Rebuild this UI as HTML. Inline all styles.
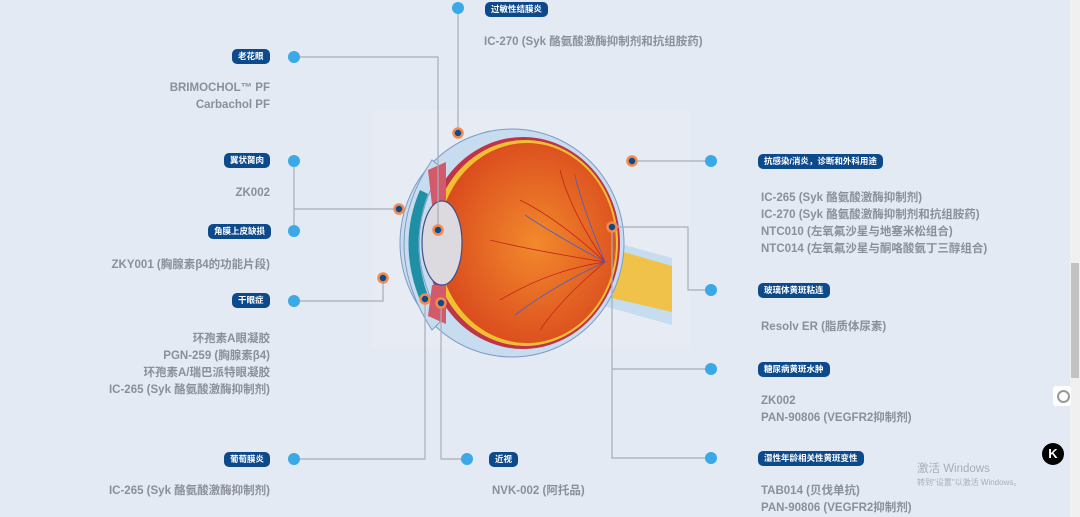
<!DOCTYPE html>
<html><head><meta charset="utf-8">
<style>
html,body{margin:0;padding:0}
body{width:1080px;height:517px;background:#e4eaf3;position:relative;overflow:hidden;font-family:"Liberation Sans","Noto Sans CJK SC",sans-serif}
.b{position:absolute;height:15px;line-height:15px;background:#0d4a8c;color:#fff;font-size:8.5px;font-weight:bold;border-radius:5px;padding:0 6px;white-space:nowrap}
.t{position:absolute;color:#8a8f99;font-size:11.5px;font-weight:bold;line-height:17px;white-space:nowrap}
.r{text-align:right}
</style></head><body>
<svg width="1080" height="517" style="position:absolute;left:0;top:0">
<defs>
<radialGradient id="og" cx="0.55" cy="0.5" r="0.6"><stop offset="0" stop-color="#f28a2c"/><stop offset="1" stop-color="#d8451c"/></radialGradient>
</defs>
<rect x="372" y="110" width="318" height="238" fill="#e7ecf4"/>
<path d="M600 238 L672 258 L672 325 L600 305 Z" fill="#c6ddef"/>
<path d="M603 246 L672 266 L672 312 L603 296 Z" fill="#f1c24a"/>
<ellipse cx="512" cy="243" rx="112" ry="114" fill="#c8dcef" stroke="#7e9bc6" stroke-width="1"/>
<ellipse cx="523" cy="243" rx="97" ry="106" fill="#c0344a"/>
<ellipse cx="525" cy="243" rx="93" ry="103" fill="#f0c030"/>
<ellipse cx="527" cy="243" rx="89" ry="100" fill="url(#og)"/>
<path d="M432 160 Q376 243 432 330 L442 320 Q396 243 442 168 Z" fill="#c8dcef" stroke="#7e9bc6" stroke-width="1"/>
<path d="M420 190 Q397 243 420 300 L428 296 Q409 243 428 194 Z" fill="#1f8fa6"/>
<path d="M428 170 L446 162 L446 205 L432 205 Z" fill="#d35a6a"/>
<path d="M428 316 L446 324 L446 285 L432 285 Z" fill="#d35a6a"/>
<ellipse cx="442" cy="243" rx="20" ry="42" fill="#dcd9df" stroke="#3e4f8a" stroke-width="1.2"/>
<g stroke="#c8201c" stroke-width="0.8" fill="none">
<path d="M605 262 Q560 220 520 200"/><path d="M605 262 Q550 270 500 300"/><path d="M605 262 Q570 210 560 170"/><path d="M605 262 Q560 300 540 330"/><path d="M605 262 Q530 250 490 240"/>
</g>
<g stroke="#4a60c0" stroke-width="0.8" fill="none">
<path d="M605 262 Q555 235 525 215"/><path d="M605 262 Q555 285 515 315"/><path d="M605 262 Q580 200 575 175"/>
</g>
<g stroke="#a7aeb9" stroke-width="1.2" fill="none">
<path d="M294 57 H438 V230"/><path d="M458 8 V133"/><path d="M294 161 V231"/><path d="M294 209 H399"/>
<path d="M294 301 H383 V278"/><path d="M294 459 H425 V299"/><path d="M467 459 H441 V303"/>
<path d="M632 161 H711"/><path d="M612 227 H688 V290 H711"/><path d="M612 227 V458 H711"/><path d="M612 369 H711"/>
</g>
<g fill="#3aa9e6">
<circle cx="294" cy="57" r="6"/><circle cx="294" cy="161" r="6"/><circle cx="294" cy="231" r="6"/><circle cx="294" cy="301" r="6"/><circle cx="294" cy="459" r="6"/>
<circle cx="458" cy="8" r="6"/><circle cx="467" cy="459" r="6"/>
<circle cx="711" cy="161" r="6"/><circle cx="711" cy="290" r="6"/><circle cx="711" cy="369" r="6"/><circle cx="711" cy="458" r="6"/>
</g>
<g fill="#0d4a8c" stroke="#f38a4e" stroke-width="2.5">
<circle cx="458" cy="133" r="4.5"/><circle cx="399" cy="209" r="4.5"/><circle cx="438" cy="230" r="4.5"/><circle cx="383" cy="278" r="4.5"/>
<circle cx="425" cy="299" r="4.5"/><circle cx="441" cy="303" r="4.5"/><circle cx="632" cy="161" r="4.5"/><circle cx="612" cy="227" r="4.5"/>
</g>
</svg>
<div class="b" style="left:232px;top:49px">老花眼</div>
<div class="t r" style="right:810px;top:80px">BRIMOCHOL™ PF<br>Carbachol PF</div>
<div class="b" style="left:224px;top:153px">翼状胬肉</div>
<div class="t r" style="right:810px;top:185px">ZK002</div>
<div class="b" style="left:208px;top:224px">角膜上皮缺损</div>
<div class="t r" style="right:810px;top:257px">ZKY001 (胸腺素β4的功能片段)</div>
<div class="b" style="left:232px;top:293px">干眼症</div>
<div class="t r" style="right:810px;top:331px">环孢素A眼凝胶<br>PGN-259 (胸腺素β4)<br>环孢素A/瑞巴派特眼凝胶<br>IC-265 (Syk 酪氨酸激酶抑制剂)</div>
<div class="b" style="left:224px;top:452px">葡萄膜炎</div>
<div class="t r" style="right:810px;top:483px">IC-265 (Syk 酪氨酸激酶抑制剂)</div>
<div class="b" style="left:485px;top:2px">过敏性结膜炎</div>
<div class="t" style="left:484px;top:34px">IC-270 (Syk 酪氨酸激酶抑制剂和抗组胺药)</div>
<div class="b" style="left:489px;top:452px">近视</div>
<div class="t" style="left:492px;top:483px">NVK-002 (阿托品)</div>
<div class="b" style="left:758px;top:154px">抗感染/消炎，诊断和外科用途</div>
<div class="t" style="left:761px;top:190px">IC-265 (Syk 酪氨酸激酶抑制剂)<br>IC-270 (Syk 酪氨酸激酶抑制剂和抗组胺药)<br>NTC010 (左氧氟沙星与地塞米松组合)<br>NTC014 (左氧氟沙星与酮咯酸氨丁三醇组合)</div>
<div class="b" style="left:758px;top:283px">玻璃体黄斑粘连</div>
<div class="t" style="left:761px;top:319px">Resolv ER (脂质体尿素)</div>
<div class="b" style="left:758px;top:362px">糖尿病黄斑水肿</div>
<div class="t" style="left:761px;top:393px">ZK002<br>PAN-90806 (VEGFR2抑制剂)</div>
<div class="b" style="left:758px;top:451px">湿性年龄相关性黄斑变性</div>
<div class="t" style="left:761px;top:483px">TAB014 (贝伐单抗)<br>PAN-90806 (VEGFR2抑制剂)</div>
<div style="position:absolute;left:917px;top:463px;color:#a8adb5;font-size:11.5px;line-height:13px">激活 Windows<br><span style="font-size:8px">转到"设置"以激活 Windows。</span></div>
<div style="position:absolute;left:1070px;top:0;width:10px;height:517px;background:#f0f0f0"></div>
<div style="position:absolute;left:1071px;top:263px;width:8px;height:115px;background:#c2c2c2"></div>
<div style="position:absolute;left:1053px;top:386px;width:18px;height:20px;background:#fff;border-radius:3px"></div>
<div style="position:absolute;left:1057px;top:390px;width:9px;height:9px;border:2px solid #999;border-radius:50%"></div>
<div style="position:absolute;left:1042px;top:443px;width:22px;height:22px;background:#000;border-radius:50%;color:#fff;font-size:13px;font-weight:bold;text-align:center;line-height:22px">K</div>
</body></html>
